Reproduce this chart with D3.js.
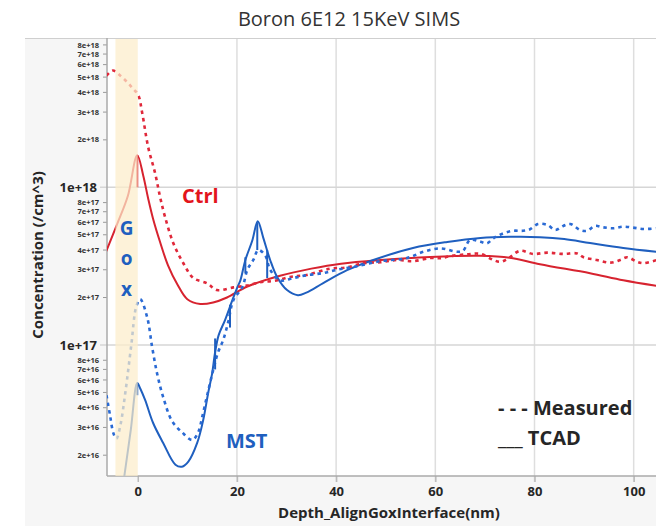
<!DOCTYPE html>
<html>
<head>
<meta charset="utf-8">
<script src="https://cdn.jsdelivr.net/npm/d3@7"></script>
<style>
  body { margin: 0; background: #fff; }
  svg { display: block; }
</style>
</head>
<body>
<script>
// depth (nm), concentration (/cm^3)
var ctrlMeasured = [
  [-6.3, 5.1e18], [-5, 5.5e18], [-3.5, 5.1e18], [-2, 4.6e18], [-0.9, 4.2e18], [0.1, 3.85e18],
  [0.9, 2.96e18], [2.1, 1.8e18], [3.5, 1.23e18], [4.5, 8.7e17], [5.5, 6.5e17], [7.2, 4.4e17],
  [9.2, 3.3e17], [11.2, 2.66e17], [14.0, 2.46e17], [16.0, 2.23e17], [19.3, 2.32e17], [22, 2.38e17],
  [24.7, 2.5e17], [27.5, 2.55e17], [30.7, 2.7e17], [34, 2.78e17], [38.8, 3.05e17], [42, 3.1e17],
  [45.5, 3.3e17], [49, 3.35e17], [52.3, 3.46e17], [55.5, 3.4e17], [59.0, 3.56e17], [61.0, 3.55e17],
  [63.0, 3.66e17], [66.4, 3.76e17], [69.1, 3.78e17], [71.7, 3.46e17], [73.1, 3.37e17], [74.4, 3.49e17],
  [77.1, 3.96e17], [79.7, 3.78e17], [82.6, 3.85e17], [85.8, 3.78e17], [88.6, 3.81e17], [89.9, 3.6e17],
  [92.6, 3.46e17], [95.3, 3.33e17], [97.3, 3.46e17], [98.7, 3.6e17], [100.7, 3.37e17], [102.0, 3.3e17],
  [104.6, 3.46e17]
];
var ctrlTcad = [
  [-6.4, 3.9e17], [-4.1, 5.9e17], [-2, 8.8e17], [-0.1, 1.6e18], [1.1, 1.19e18], [2.1, 8.5e17],
  [3.1, 6.3e17], [4.5, 4.5e17], [6.1, 3.2e17], [8.0, 2.42e17], [10.0, 1.95e17], [12.6, 1.82e17],
  [15.2, 1.86e17], [18.0, 2.0e17], [22.1, 2.35e17], [28.7, 2.75e17], [35, 3.05e17], [41, 3.28e17],
  [49, 3.46e17], [59, 3.62e17], [69, 3.68e17], [75, 3.58e17], [81.1, 3.25e17], [91.2, 2.85e17],
  [97.9, 2.57e17], [104.6, 2.37e17]
];
var mstMeasured = [
  [-6.3, 4.8e16], [-5.6, 3.6e16], [-4.9, 2.75e16], [-4.3, 2.55e16], [-3.5, 3.1e16], [-2.5, 5.0e16],
  [-1.3, 1.0e17], [-0.3, 1.75e17], [0.5, 1.95e17], [1.9, 1.5e17], [2.9, 9.7e16], [3.9, 6.6e16],
  [5.1, 4.7e16], [6.9, 3.3e16], [8.9, 2.8e16], [11.0, 2.5e16], [12.2, 2.8e16], [13.0, 3.5e16],
  [14.0, 4.8e16], [15.2, 6.9e16], [16.2, 9.0e16], [17.2, 1.07e17], [18.2, 1.38e17], [19.3, 1.93e17],
  [21.1, 2.33e17], [22.1, 3.0e17], [23.3, 3.46e17], [24.3, 4.0e17], [25.7, 3.7e17], [26.7, 3.0e17],
  [28.7, 2.57e17], [31.4, 2.66e17], [34.1, 2.77e17], [37.4, 2.86e17], [40.2, 3.0e17], [44, 3.15e17],
  [48.9, 3.4e17], [54.3, 3.56e17], [57.6, 3.9e17], [61.0, 4.1e17], [64.4, 3.9e17], [65.6, 3.96e17],
  [67.0, 4.63e17], [69.1, 4.52e17], [70.4, 4.41e17], [71.7, 4.75e17], [73.7, 5.1e17], [75.7, 5.3e17],
  [77.7, 5.3e17], [79.1, 5.42e17], [80.7, 5.85e17], [82.6, 5.77e17], [84.2, 5.36e17], [85.8, 5.69e17],
  [87.2, 5.85e17], [89.2, 5.36e17], [90.6, 5.3e17], [92.2, 5.69e17], [93.9, 5.57e17], [95.9, 5.5e17],
  [97.9, 5.63e17], [99.9, 5.55e17], [102.0, 5.44e17], [104.6, 5.5e17]
];
var mstTcad = [
  [-3.5, 1.0e16], [-2.7, 1.48e16], [-1.4, 2.9e16], [-0.1, 5.74e16], [0.5, 5.3e16], [1.5, 4.47e16],
  [3.1, 3.2e16], [5.1, 2.4e16], [7.6, 1.74e16], [8.9, 1.69e16], [10.2, 1.82e16], [12.0, 2.4e16],
  [13.2, 3.34e16], [14.2, 4.96e16], [15.0, 6.6e16], [15.6, 9.0e16], [16.3, 1.15e17], [17.6, 1.44e17],
  [19.1, 1.93e17], [20.1, 2.33e17], [20.7, 2.57e17], [21.7, 3.46e17], [23.1, 4.6e17], [24.2, 6.1e17],
  [25.3, 4.8e17], [26.7, 3.46e17], [28.1, 2.7e17], [30.1, 2.23e17], [32.3, 2.07e17], [34, 2.15e17],
  [37.4, 2.47e17], [42.2, 2.98e17], [47.5, 3.46e17], [55.5, 4.12e17], [62.4, 4.5e17], [69.1, 4.77e17],
  [75, 4.85e17], [81.1, 4.83e17], [86, 4.7e17], [91.2, 4.43e17], [97.9, 4.12e17], [104.6, 3.9e17]
];
// vertical mesh steps in the TCAD curves: [depth, upper, lower]
var ctrlTcadSteps = [[-0.1, 1.6e18, 1.0e18]];
var mstTcadSteps = [
  [-0.1, 5.74e16, 4.8e16], [15.6, 1.1e17, 7.0e16], [18.6, 1.8e17, 1.29e17],
  [21.7, 3.6e17, 2.85e17], [24.1, 6.0e17, 4.0e17], [26.1, 4.0e17, 2.66e17]
];
// oxide band (Gox)
var goxRange = [-4.5, 0];

var xTicks = [0, 20, 40, 60, 80, 100];
var yMajorTicks = [1e17, 1e18];
var yMinorTicks = [2e16, 3e16, 4e16, 5e16, 6e16, 7e16, 8e16,
  2e17, 3e17, 4e17, 5e17, 6e17, 7e17, 8e17,
  2e18, 3e18, 4e18, 5e18, 6e18, 7e18, 8e18];

var w = 656, h = 526;
var plot = { left: 107, right: 656, top: 38, bottom: 476 };

var red = "#d7232f", redDash = "#e0283a", blue = "#1f5fbf", blueDash = "#2a6ad4";
var textDark = "#262626";

var svg = d3.select("body").append("svg")
  .attr("width", w)
  .attr("height", h)
  .style("font-family", "'Open Sans', 'Noto Sans', sans-serif");

var xScale = d3.scaleLinear().domain([-6.2, 104.5]).range([plot.left, plot.right]);
var yScale = d3.scaleLog().domain([1.476e16, 8.85e18]).range([plot.bottom, plot.top]);

// grey frame panel behind the plot
svg.append("rect")
  .attr("x", 25).attr("y", plot.top)
  .attr("width", w - 25).attr("height", h - plot.top)
  .attr("fill", "#f6f6f6");
svg.append("line")
  .attr("x1", 25).attr("x2", w).attr("y1", plot.top + 0.5).attr("y2", plot.top + 0.5)
  .attr("stroke", "#cfcfcf");
svg.append("rect")
  .attr("x", plot.left).attr("y", plot.top + 1)
  .attr("width", plot.right - plot.left).attr("height", plot.bottom - plot.top - 1)
  .attr("fill", "#fff");

// title
svg.append("text")
  .attr("x", 349).attr("y", 26)
  .attr("text-anchor", "middle")
  .attr("font-size", 20)
  .attr("fill", "#333")
  .text("Boron 6E12 15KeV SIMS");

// grid lines
svg.selectAll(".vgrid")
  .data(xTicks.filter(function (d) { return d > 0; }))
  .enter().append("line")
  .attr("class", "vgrid")
  .attr("x1", function (d) { return xScale(d); })
  .attr("x2", function (d) { return xScale(d); })
  .attr("y1", plot.top + 1).attr("y2", plot.bottom + 6)
  .attr("stroke", "#dedede").attr("stroke-width", 1.5);

svg.selectAll(".hgrid")
  .data(yMajorTicks)
  .enter().append("line")
  .attr("class", "hgrid")
  .attr("x1", 100).attr("x2", plot.right)
  .attr("y1", function (d) { return yScale(d); })
  .attr("y2", function (d) { return yScale(d); })
  .attr("stroke", "#d6d6d6").attr("stroke-width", 1.5);

// y axis ticks and labels
var yAxisG = svg.append("g");
yAxisG.selectAll(".minorTick")
  .data(yMinorTicks)
  .enter().append("line")
  .attr("x1", 103).attr("x2", plot.left)
  .attr("y1", function (d) { return yScale(d); })
  .attr("y2", function (d) { return yScale(d); })
  .attr("stroke", "#999");
yAxisG.selectAll(".minorLabel")
  .data(yMinorTicks)
  .enter().append("text")
  .attr("x", 99)
  .attr("y", function (d) { return yScale(d); })
  .attr("dy", "0.35em")
  .attr("text-anchor", "end")
  .attr("font-size", 7.5)
  .attr("font-weight", "bold")
  .attr("fill", "#333")
  .text(function (d) { return d3.format(".0e")(d); });
yAxisG.selectAll(".majorLabel")
  .data(yMajorTicks)
  .enter().append("text")
  .attr("x", 97)
  .attr("y", function (d) { return yScale(d); })
  .attr("dy", "0.35em")
  .attr("text-anchor", "end")
  .attr("font-size", 13)
  .attr("font-weight", "bold")
  .attr("fill", textDark)
  .text(function (d) { return d3.format(".0e")(d); });

// x axis
var xAxis = d3.axisBottom(xScale).tickValues(xTicks).tickSize(6).tickPadding(5);
var xAxisG = svg.append("g")
  .attr("transform", "translate(0," + plot.bottom + ")")
  .call(xAxis);
xAxisG.select(".domain").remove();
xAxisG.selectAll("line").attr("stroke", "#bbb").attr("stroke-width", 1.5);
xAxisG.selectAll("text")
  .attr("font-size", 13)
  .attr("font-weight", "bold")
  .attr("font-family", "'Open Sans', sans-serif")
  .attr("fill", textDark);

// axis frame lines
svg.append("line")
  .attr("x1", plot.left).attr("x2", plot.right)
  .attr("y1", plot.bottom).attr("y2", plot.bottom)
  .attr("stroke", "#aaa").attr("stroke-width", 1.5);
svg.append("line")
  .attr("x1", plot.left).attr("x2", plot.left)
  .attr("y1", plot.top).attr("y2", plot.bottom)
  .attr("stroke", "#aaa").attr("stroke-width", 1.5);

// axis titles
svg.append("text")
  .attr("x", 389).attr("y", 518)
  .attr("text-anchor", "middle")
  .attr("font-size", 15)
  .attr("font-weight", "bold")
  .attr("fill", textDark)
  .text("Depth_AlignGoxInterface(nm)");
svg.append("text")
  .attr("transform", "translate(43,255) rotate(-90)")
  .attr("text-anchor", "middle")
  .attr("font-size", 15)
  .attr("font-weight", "bold")
  .attr("fill", textDark)
  .text("Concentration (/cm^3)");

// curves, clipped to the plot area
svg.append("clipPath").attr("id", "plotClip")
  .append("rect")
  .attr("x", plot.left).attr("y", plot.top)
  .attr("width", plot.right - plot.left).attr("height", plot.bottom - plot.top);

var curves = svg.append("g").attr("clip-path", "url(#plotClip)");

var line = d3.line()
  .x(function (d) { return xScale(d[0]); })
  .y(function (d) { return yScale(d[1]); })
  .curve(d3.curveCatmullRom.alpha(0.5));

var series = [
  { data: ctrlTcad, color: red, dash: null, width: 2 },
  { data: mstTcad, color: blue, dash: null, width: 2 },
  { data: ctrlMeasured, color: redDash, dash: "3.5,4", width: 2.6 },
  { data: mstMeasured, color: blueDash, dash: "3.5,4", width: 2.6 }
];

curves.selectAll(".series")
  .data(series)
  .enter().append("path")
  .attr("class", "series")
  .attr("d", function (d) { return line(d.data); })
  .attr("fill", "none")
  .attr("stroke", function (d) { return d.color; })
  .attr("stroke-width", function (d) { return d.width; })
  .attr("stroke-dasharray", function (d) { return d.dash; })
  .attr("stroke-linejoin", "round");

function drawSteps(data, color) {
  curves.selectAll(null)
    .data(data)
    .enter().append("line")
    .attr("x1", function (d) { return xScale(d[0]); })
    .attr("x2", function (d) { return xScale(d[0]); })
    .attr("y1", function (d) { return yScale(d[1]); })
    .attr("y2", function (d) { return yScale(d[2]); })
    .attr("stroke", color)
    .attr("stroke-width", 2);
}
drawSteps(ctrlTcadSteps, red);
drawSteps(mstTcadSteps, blue);

// Gox band sits over the curves and fades them
svg.append("rect")
  .attr("x", xScale(goxRange[0]))
  .attr("y", plot.top + 1)
  .attr("width", xScale(goxRange[1]) - xScale(goxRange[0]))
  .attr("height", plot.bottom - plot.top - 1)
  .attr("fill", "#fcedcb")
  .attr("opacity", 0.72);

svg.selectAll(".gox")
  .data(["G", "o", "x"])
  .enter().append("text")
  .attr("x", (xScale(goxRange[0]) + xScale(goxRange[1])) / 2)
  .attr("y", function (d, i) { return [235, 265, 296][i]; })
  .attr("text-anchor", "middle")
  .attr("font-size", 19)
  .attr("font-weight", "bold")
  .attr("fill", blue)
  .text(function (d) { return d; });

// series labels
svg.append("text")
  .attr("x", 182).attr("y", 203)
  .attr("font-size", 20).attr("font-weight", "bold")
  .attr("fill", "#e3141c")
  .text("Ctrl");
svg.append("text")
  .attr("x", 226).attr("y", 448)
  .attr("font-size", 20).attr("font-weight", "bold")
  .attr("fill", blue)
  .text("MST");

// legend
svg.append("text")
  .attr("x", 498).attr("y", 415)
  .attr("font-size", 20).attr("font-weight", "bold")
  .attr("fill", textDark)
  .text("- - - Measured");
svg.append("text")
  .attr("x", 498).attr("y", 445)
  .attr("font-size", 20).attr("font-weight", "bold")
  .attr("fill", textDark)
  .text("___ TCAD");
</script>
</body>
</html>
